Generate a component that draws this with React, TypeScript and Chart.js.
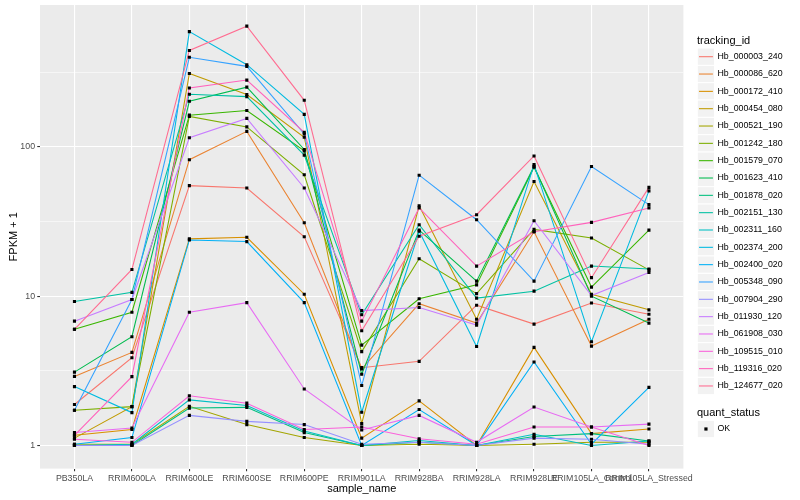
import React, { useEffect, useRef } from 'react';
import { Chart, registerables } from 'chart.js';

Chart.register(...registerables);

const samples = ['PB350LA', 'RRIM600LA', 'RRIM600LE', 'RRIM600SE', 'RRIM600PE', 'RRIM901LA', 'RRIM928BA', 'RRIM928LA', 'RRIM928LE', 'RRIM105LA_Control', 'RRIM105LA_Stressed'];

const trackingIds = ['Hb_000003_240', 'Hb_000086_620', 'Hb_000172_410', 'Hb_000454_080', 'Hb_000521_190', 'Hb_001242_180', 'Hb_001579_070', 'Hb_001623_410', 'Hb_001878_020', 'Hb_002151_130', 'Hb_002311_160', 'Hb_002374_200', 'Hb_002400_020', 'Hb_005348_090', 'Hb_007904_290', 'Hb_011930_120', 'Hb_061908_030', 'Hb_109515_010', 'Hb_119316_020', 'Hb_124677_020'];

const seriesColors = ['#F8766D', '#EA8331', '#D89000', '#C09B00', '#A3A500', '#7CAE00', '#39B600', '#00BB4E', '#00BF7D', '#00C1A3', '#00BFC4', '#00BAE0', '#00B0F6', '#35A2FF', '#9590FF', '#C77CFF', '#E76BF3', '#FA62DB', '#FF62BC', '#FF6C91'];

// FPKM + 1 per sample (order of `samples`)
const hb_000003_240 = [1.88, 3.87, 55, 53, 25, 3.32, 3.66, 8.7, 6.5, 9.0, 7.56];
const hb_000086_620 = [2.9, 4.2, 82, 127, 31, 3.25, 8.9, 6.6, 27, 4.63, 7.0];
const hb_000172_410 = [1.17, 1.28, 24.2, 24.8, 10.3, 1.12, 1.99, 1.0, 4.54, 1.2, 1.29];
const hb_000454_080 = [1.12, 1.82, 310, 224, 116, 1.4, 40.3, 7.0, 58.6, 10.3, 8.1];
const hb_000521_190 = [1.02, 1.02, 1.83, 1.38, 1.13, 1.0, 1.02, 1.0, 1.02, 1.05, 1.05];
const hb_001242_180 = [1.72, 1.82, 160, 136, 65, 4.25, 17.8, 10.4, 28, 24.5, 15.0];
const hb_001579_070 = [6.0, 7.8, 163, 175, 94, 4.7, 9.6, 11.9, 73, 11.5, 27.7];
const hb_001623_410 = [3.1, 5.35, 202, 251, 96, 3.0, 27.7, 12.6, 74, 10.0, 6.6];
const hb_001878_020 = [1.0, 1.0, 1.78, 1.8, 1.22, 1.0, 1.05, 1.0, 1.15, 1.2, 1.07];
const hb_002151_130 = [9.2, 10.6, 225, 217, 88, 7.5, 30.1, 9.7, 10.8, 15.9, 15.2];
const hb_002311_160 = [1.0, 1.02, 2.02, 1.85, 1.25, 1.0, 1.08, 1.0, 1.19, 1.0, 1.07];
const hb_002374_200 = [2.48, 1.66, 591, 355, 165, 1.67, 27.2, 4.6, 76, 4.95, 50.7];
const hb_002400_020 = [1.02, 1.13, 23.8, 23.2, 9.05, 1.0, 1.74, 1.0, 3.62, 1.02, 2.45];
const hb_005348_090 = [1.72, 9.5, 398, 346, 122, 2.52, 64.6, 32.5, 12.6, 73.8, 41];
const hb_007904_290 = [1.0, 1.0, 1.59, 1.45, 1.38, 1.02, 1.05, 1.0, 1.12, 1.1, 1.02];
const hb_011930_120 = [6.8, 9.5, 115, 155, 53, 8.0, 8.4, 6.4, 32, 10.1, 14.4];
const hb_061908_030 = [1.22, 1.31, 7.8, 9.05, 2.39, 1.27, 1.59, 1.05, 1.81, 1.33, 1.39];
const hb_109515_010 = [1.1, 1.05, 2.15, 1.92, 1.28, 1.33, 1.11, 1.02, 1.33, 1.33, 1.0];
const hb_119316_020 = [1.17, 2.89, 248, 280, 125, 6.8, 39, 15.9, 27, 31.2, 39];
const hb_124677_020 = [6.0, 15.1, 442, 643, 205, 5.86, 25.2, 35.1, 86.9, 13.3, 53.5];

const seriesValues = [hb_000003_240, hb_000086_620, hb_000172_410, hb_000454_080, hb_000521_190, hb_001242_180, hb_001579_070, hb_001623_410, hb_001878_020, hb_002151_130, hb_002311_160, hb_002374_200, hb_002400_020, hb_005348_090, hb_007904_290, hb_011930_120, hb_061908_030, hb_109515_010, hb_119316_020, hb_124677_020];

const yMajorTicks = [1, 10, 100];
const yMajorLabels = ['1', '10', '100'];
const yMinorTicks = [3.1623, 31.623, 316.23];
const quantStatus = ['OK'];

const FONT = '"Liberation Sans", Arial, Helvetica, sans-serif';

const ggPlugin = {
  id: 'ggDecor',
  beforeDraw(chart: any) {
    const { ctx, chartArea: a } = chart;
    ctx.save();
    ctx.fillStyle = '#FFFFFF';
    ctx.fillRect(0, 0, chart.width, chart.height);
    ctx.fillStyle = '#EBEBEB';
    ctx.fillRect(a.left, a.top, a.right - a.left, a.bottom - a.top);
    ctx.restore();
  },
  afterDraw(chart: any) {
    const { ctx, chartArea: a } = chart;
    ctx.save();
    // axis titles
    ctx.fillStyle = '#000000';
    ctx.font = `11px ${FONT}`;
    ctx.textAlign = 'center';
    ctx.textBaseline = 'middle';
    ctx.fillText('sample_name', (a.left + a.right) / 2, 488.5);
    ctx.save();
    ctx.translate(13.5, (a.top + a.bottom) / 2);
    ctx.rotate(-Math.PI / 2);
    ctx.fillText('FPKM + 1', 0, 0);
    ctx.restore();

    // legend: tracking_id
    const keyX = 697.3;
    const keyW = 17.3;
    const rowH = 17.33;
    ctx.textAlign = 'left';
    ctx.font = `11px ${FONT}`;
    ctx.fillText('tracking_id', 697, 40.7);
    ctx.font = `8.8px ${FONT}`;
    trackingIds.forEach((id, i) => {
      const cy = 56.7 + rowH * i;
      ctx.fillStyle = '#F2F2F2';
      ctx.fillRect(keyX, cy - rowH / 2, keyW, rowH);
      ctx.strokeStyle = '#FFFFFF';
      ctx.lineWidth = 1;
      ctx.strokeRect(keyX, cy - rowH / 2, keyW, rowH);
      ctx.strokeStyle = seriesColors[i];
      ctx.lineWidth = 1.07;
      ctx.beginPath();
      ctx.moveTo(keyX + 1.7, cy);
      ctx.lineTo(keyX + keyW - 1.7, cy);
      ctx.stroke();
      ctx.fillStyle = '#000000';
      ctx.fillText(id, 717.5, cy);
    });

    // legend: quant_status
    ctx.font = `11px ${FONT}`;
    ctx.fillText('quant_status', 697, 412.7);
    ctx.font = `8.8px ${FONT}`;
    quantStatus.forEach((s, i) => {
      const cy = 429 + rowH * i;
      ctx.fillStyle = '#F2F2F2';
      ctx.fillRect(keyX, cy - rowH / 2, keyW, rowH);
      ctx.strokeStyle = '#FFFFFF';
      ctx.lineWidth = 1;
      ctx.strokeRect(keyX, cy - rowH / 2, keyW, rowH);
      ctx.fillStyle = '#000000';
      ctx.fillRect(keyX + keyW / 2 - 1.6, cy - 1.6, 3.2, 3.2);
      ctx.fillText(s, 717.5, cy);
    });
    ctx.restore();
  },
};

export default function App() {
  const canvasRef = useRef<HTMLCanvasElement | null>(null);

  useEffect(() => {
    if (!canvasRef.current) return;
    const lineSets = seriesValues.map((vals, si) => ({
      type: 'line' as const,
      label: trackingIds[si],
      data: vals.map((v, i) => ({ x: i, y: v })),
      borderColor: seriesColors[si],
      backgroundColor: seriesColors[si],
      borderWidth: 1.07,
      pointRadius: 0,
      tension: 0,
      fill: false,
      order: 20 - si,
    }));
    const pointSet = {
      type: 'line' as const,
      label: 'points',
      data: seriesValues.flatMap((vals) => vals.map((v, i) => ({ x: i, y: v }))),
      showLine: false,
      pointStyle: 'rect',
      pointRadius: 2.2,
      pointBackgroundColor: '#000000',
      pointBorderWidth: 0,
      borderWidth: 0,
      order: -1,
    };

    const isMajor = (v: number) => yMajorTicks.some((m) => Math.abs(m - v) < 1e-6);

    const chart = new Chart(canvasRef.current, {
      type: 'line',
      data: { datasets: [pointSet as any, ...lineSets] },
      options: {
        animation: false,
        responsive: false,
        events: [],
        layout: { padding: { top: 5, right: 116.6, left: 0, bottom: 0 } },
        plugins: { legend: { display: false }, tooltip: { enabled: false } },
        scales: {
          x: {
            type: 'linear',
            min: -0.6,
            max: 10.6,
            afterBuildTicks: (s: any) => {
              s.ticks = samples.map((_, i) => ({ value: i }));
            },
            afterFit: (s: any) => {
              s.height = 31.4;
              s.paddingLeft = 0;
              s.paddingRight = 0;
              s.paddingTop = 0;
              s.paddingBottom = 0;
            },
            border: { display: false },
            grid: {
              color: '#FFFFFF',
              lineWidth: 1.1,
              drawTicks: true,
              tickLength: 2.75,
              tickColor: '#333333',
              tickWidth: 1.07,
            },
            ticks: {
              autoSkip: false,
              maxRotation: 0,
              minRotation: 0,
              padding: 2.2,
              color: '#4D4D4D',
              font: { family: FONT, size: 8.8 },
              callback: (v: any) => samples[Math.round(Number(v))] ?? '',
            },
          },
          y: {
            type: 'logarithmic',
            min: Math.pow(10, -0.1407),
            max: Math.pow(10, 2.95),
            afterBuildTicks: (s: any) => {
              s.ticks = [...yMajorTicks, ...yMinorTicks].sort((p, q) => p - q).map((v) => ({ value: v }));
            },
            afterFit: (s: any) => {
              s.width = 40;
              s.paddingLeft = 0;
              s.paddingRight = 0;
              s.paddingTop = 0;
              s.paddingBottom = 0;
            },
            border: { display: false },
            grid: {
              color: '#FFFFFF',
              lineWidth: (c: any) => (c.tick && isMajor(c.tick.value) ? 1.1 : 0.55),
              drawTicks: true,
              tickLength: 2.75,
              tickColor: (c: any) => (c.tick && isMajor(c.tick.value) ? '#333333' : 'rgba(0,0,0,0)'),
              tickWidth: 1.07,
            },
            ticks: {
              autoSkip: false,
              padding: 2.2,
              color: '#4D4D4D',
              font: { family: FONT, size: 8.8 },
              callback: (v: any) => {
                const idx = yMajorTicks.findIndex((m) => Math.abs(m - Number(v)) < 1e-6);
                return idx >= 0 ? yMajorLabels[idx] : '';
              },
            },
          },
        },
      },
      plugins: [ggPlugin],
    } as any);
    return () => chart.destroy();
  }, []);

  return (
    <div style={{ position: 'absolute', left: 0, top: 0, width: 800, height: 500, background: '#fff' }}>
      <canvas ref={canvasRef} width={800} height={500} style={{ width: 800, height: 500, display: 'block' }} />
    </div>
  );
}
